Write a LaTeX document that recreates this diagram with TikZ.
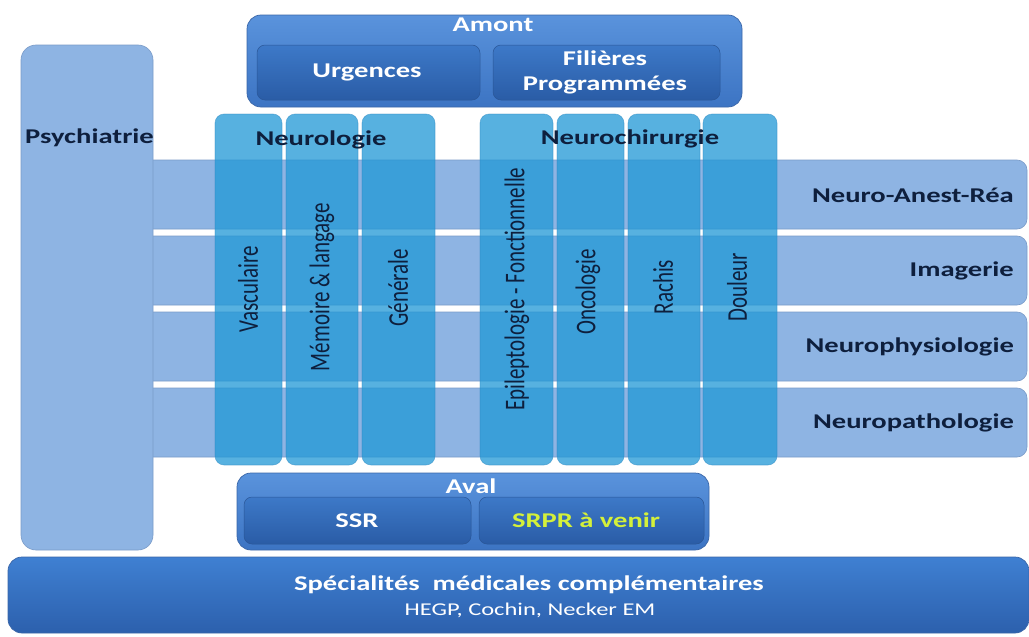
\documentclass[tikz,border=0pt]{standalone}
\usepackage{fontspec}
\setmainfont{Carlito}
\usepackage{graphicx}
\definecolor{bandblue}{HTML}{8EB4E3}
\definecolor{bandedge}{HTML}{7A9BC8}
\definecolor{colblue}{HTML}{2098D6}
\definecolor{coledge}{HTML}{2A86C0}
\definecolor{outertop}{HTML}{5A93DC}
\definecolor{outerbot}{HTML}{3C74C3}
\definecolor{outeredge}{HTML}{3A66A8}
\definecolor{innertop}{HTML}{3D79C8}
\definecolor{innerbot}{HTML}{2A5CA6}
\definecolor{inneredge}{HTML}{2A5696}
\definecolor{basetop}{HTML}{3F80D2}
\definecolor{basebot}{HTML}{2C60AD}
\definecolor{labelnavy}{HTML}{0E1F3D}
\definecolor{srprgreen}{HTML}{D4F03A}
\newcommand{\hs}[1]{\scalebox{1.36}[1]{#1}}
\newcommand{\vs}[1]{\scalebox{1}[1.36]{#1}}
\tikzset{
  lightbox/.style={fill=bandblue, draw=bandedge, line width=0.6pt, inner sep=0pt},
  colbox/.style={fill=colblue, fill opacity=0.75, draw=coledge, draw opacity=0.5, line width=0.6pt, rounded corners=9pt, inner sep=0pt},
  outerbox/.style={rounded corners=14pt, top color=outertop, bottom color=outerbot, draw=outeredge, line width=0.7pt, inner sep=0pt},
  innerbox/.style={rounded corners=8pt, top color=innertop, bottom color=innerbot, draw=inneredge, line width=0.5pt, inner sep=0pt},
  basebox/.style={rounded corners=14pt, top color=basetop, bottom color=basebot, draw=outeredge, line width=0.7pt, inner sep=0pt},
  darklbl/.style={font=\bfseries\fontsize{21}{24}\selectfont, text=labelnavy, inner sep=0pt},
  whitelbl/.style={font=\bfseries\fontsize{21}{25}\selectfont, text=white, inner sep=0pt, align=center},
  vlbl/.style={rotate=90, font=\fontsize{21}{24}\selectfont, text=labelnavy, inner sep=0pt},
}
\begin{document}
\begin{tikzpicture}[x=1pt,y=-1pt]
\useasboundingbox (0,0) rectangle (1029,637);
\fill[white] (0,0) rectangle (1029,637);

% horizontal bands
\node[lightbox, rounded corners=10pt, minimum width=887pt, minimum height=69pt] (b1) at (583.5,194.5) {};
\node[lightbox, rounded corners=10pt, minimum width=887pt, minimum height=69pt] (b2) at (583.5,270.5) {};
\node[lightbox, rounded corners=10pt, minimum width=887pt, minimum height=69pt] (b3) at (583.5,346.5) {};
\node[lightbox, rounded corners=10pt, minimum width=887pt, minimum height=69pt] (b4) at (583.5,422.5) {};

% Psychiatrie column
\node[lightbox, rounded corners=15pt, minimum width=132pt, minimum height=505pt] (psy) at (87,297.5) {};
\node[darklbl] (psyl) at (89.5,138) {\hs{Psychiatrie}};

% columns
\node[colbox, minimum width=67pt, minimum height=351pt] (c1) at (248.5,289.5) {};
\node[colbox, minimum width=72pt, minimum height=351pt] (c2) at (322,289.5) {};
\node[colbox, minimum width=73pt, minimum height=351pt] (c3) at (398.5,289.5) {};
\node[colbox, minimum width=73pt, minimum height=351pt] (c4) at (516.5,289.5) {};
\node[colbox, minimum width=67pt, minimum height=351pt] (c5) at (590.5,289.5) {};
\node[colbox, minimum width=72pt, minimum height=351pt] (c6) at (664,289.5) {};
\node[colbox, minimum width=74pt, minimum height=351pt] (c7) at (740,289.5) {};

\node[darklbl] (neurol) at (321,140) {\hs{Neurologie}};
\node[darklbl] (neuroc) at (630,139) {\hs{Neurochirurgie}};

\node[vlbl] (v1) at (248,289) {\vs{Vasculaire}};
\node[vlbl] (v2) at (322,287) {\vs{Mémoire \& langage}};
\node[vlbl] (v3) at (398,288) {\vs{Générale}};
\node[vlbl] (v4) at (517,289) {\vs{Epileptologie - Fonctionnelle}};
\node[vlbl] (v5) at (588,292) {\vs{Oncologie}};
\node[vlbl] (v6) at (663,287) {\vs{Rachis}};
\node[vlbl] (v7) at (737,287) {\vs{Douleur}};

% band labels
\node[darklbl, anchor=east] (l1) at (1014,195) {\hs{Neuro-Anest-Réa}};
\node[darklbl, anchor=east] (l2) at (1014,271) {\hs{Imagerie}};
\node[darklbl, anchor=east] (l3) at (1014,347) {\hs{Neurophysiologie}};
\node[darklbl, anchor=east] (l4) at (1014,423) {\hs{Neuropathologie}};

% Amont
\node[outerbox, minimum width=495pt, minimum height=92pt] (amont) at (494.5,61) {};
\node[innerbox, minimum width=223pt, minimum height=55pt] (urg) at (368.5,72.5) {};
\node[innerbox, minimum width=227pt, minimum height=55pt] (fil) at (606.5,72.5) {};
\node[whitelbl] (amontl) at (493,25) {\hs{Amont}};
\node[whitelbl] (urgl) at (367,72) {\hs{Urgences}};
\node[whitelbl] (fill) at (605,72.5) {\hs{Filières}\\\hs{Programmées}};

% Aval
\node[outerbox, minimum width=472pt, minimum height=77pt] (aval) at (473,511.5) {};
\node[innerbox, minimum width=227pt, minimum height=47pt] (ssr) at (357.5,520.5) {};
\node[innerbox, minimum width=225pt, minimum height=47pt] (srpr) at (591.5,520.5) {};
\node[whitelbl] (avall) at (471,486) {\hs{Aval}};
\node[whitelbl] (ssrl) at (357,521) {\hs{SSR}};
\node[whitelbl, text=srprgreen] (srprl) at (586,520) {\hs{SRPR à venir}};

% base
\node[basebox, minimum width=1021pt, minimum height=76pt] (base) at (518.5,595) {};
\node[whitelbl] (basel) at (529,585) {\hs{Spécialités\ \ médicales complémentaires}};
\node[font=\fontsize{18}{20}\selectfont, text=white, inner sep=0pt] (basel2) at (530,610) {\hs{HEGP, Cochin, Necker EM}};
\end{tikzpicture}
\end{document}
